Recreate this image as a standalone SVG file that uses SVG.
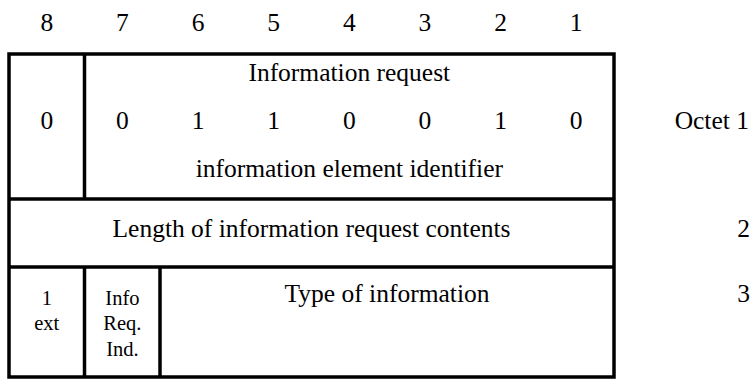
<svg xmlns="http://www.w3.org/2000/svg" width="752" height="379" viewBox="0 0 752 379">
<style>
text{fill:#000;text-anchor:middle}
.b{font-size:25.5px}
.s{font-size:20.5px}
.r{text-anchor:end}
.ln{stroke:#000;stroke-width:3.5;fill:none}
</style>
<rect width="752" height="379" fill="#fff"/>
<g font-family="Liberation Serif, Times New Roman, DejaVu Serif, serif">
<g id="header">
<text class="b" x="46.8" y="31">8</text>
<text class="b" x="122.4" y="31">7</text>
<text class="b" x="198.1" y="31">6</text>
<text class="b" x="273.7" y="31">5</text>
<text class="b" x="349.3" y="31">4</text>
<text class="b" x="424.9" y="31">3</text>
<text class="b" x="500.6" y="31">2</text>
<text class="b" x="576.2" y="31">1</text>
</g>
<g id="frame">
<rect class="ln" x="9" y="54" width="605" height="323"/>
<line class="ln" x1="9" y1="199" x2="614" y2="199"/>
<line class="ln" x1="9" y1="267" x2="614" y2="267"/>
<line class="ln" x1="84.5" y1="54" x2="84.5" y2="199"/>
<line class="ln" x1="84.5" y1="267" x2="84.5" y2="377"/>
<line class="ln" x1="160" y1="267" x2="160" y2="377"/>
</g>
<g id="octet1">
<text class="b" x="349.3" y="81">Information request</text>
<text class="b" x="46.8" y="129">0</text>
<text class="b" x="122.4" y="129">0</text>
<text class="b" x="198.1" y="129">1</text>
<text class="b" x="273.7" y="129">1</text>
<text class="b" x="349.3" y="129">0</text>
<text class="b" x="424.9" y="129">0</text>
<text class="b" x="500.6" y="129">1</text>
<text class="b" x="576.2" y="129">0</text>
<text class="b" x="349.3" y="177">information element identifier</text>
<text class="b r" x="749" y="129">Octet 1</text>
</g>
<g id="octet2">
<text class="b" x="311.5" y="237">Length of information request contents</text>
<text class="b r" x="750" y="237">2</text>
</g>
<g id="octet3">
<text class="s" x="46.8" y="305">1</text>
<text class="s" x="46.8" y="330">ext</text>
<text class="s" x="122.4" y="305">Info</text>
<text class="s" x="122.4" y="330">Req.</text>
<text class="s" x="122.4" y="356">Ind.</text>
<text class="b" x="387" y="302">Type of information</text>
<text class="b r" x="750" y="302">3</text>
</g>
</g>
</svg>
